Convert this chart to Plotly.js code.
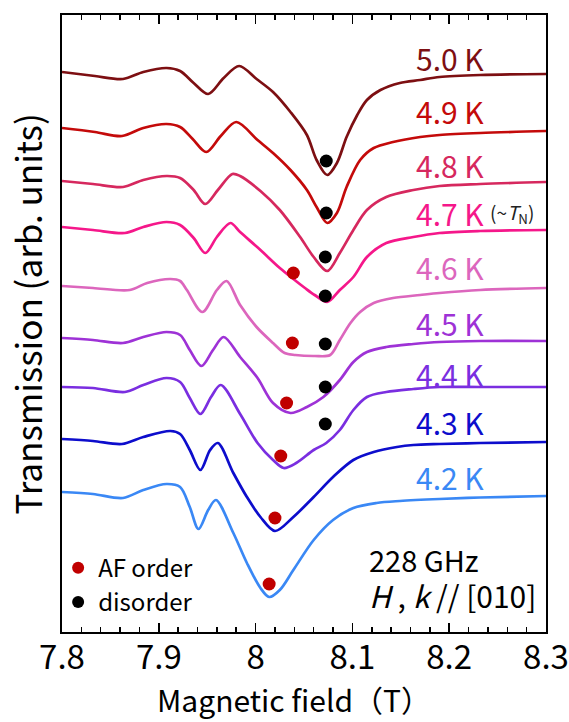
<!DOCTYPE html>
<html>
<head>
<meta charset="utf-8">
<script src="https://cdn.plot.ly/plotly-3.0.1.min.js"></script>
<style>html,body{margin:0;padding:0;background:#fff;}#chart{width:569px;height:722px;}</style>
</head>
<body>
<div id="chart"></div>
<script>
// Temperatures (labels)
const tempLabels = ['5.0 K', '4.9 K', '4.8 K', '4.7 K', '4.6 K', '4.5 K', '4.4 K', '4.3 K', '4.2 K'];

// Magnetic field (T) and transmission (arb. units, offset) for each temperature
const field_50 = [7.800, 7.834, 7.863, 7.884, 7.908, 7.922, 7.936, 7.951, 7.967, 7.983, 8.001, 8.018, 8.036, 8.053, 8.063, 8.074, 8.084, 8.094, 8.105, 8.115, 8.129, 8.149, 8.170, 8.190, 8.232, 8.300];
const trans_50 = [560, 556, 553, 560, 564, 561, 549, 538, 554, 566, 553, 540, 520, 497, 472, 457, 469, 495, 517, 532, 542, 549, 552, 555, 557, 558];

const field_49 = [7.800, 7.834, 7.862, 7.884, 7.908, 7.922, 7.935, 7.949, 7.964, 7.980, 8.002, 8.018, 8.036, 8.053, 8.063, 8.074, 8.084, 8.094, 8.108, 8.122, 8.142, 8.170, 8.190, 8.232, 8.300];
const trans_49 = [504, 500, 496, 504, 508, 505, 493, 480, 496, 510, 492, 479, 462, 442, 425, 409, 419, 445, 472, 484, 490, 495, 497, 499, 501];

const field_48 = [7.800, 7.832, 7.863, 7.884, 7.908, 7.922, 7.936, 7.948, 7.961, 7.976, 7.984, 8.005, 8.025, 8.046, 8.060, 8.074, 8.087, 8.101, 8.115, 8.135, 8.163, 8.190, 8.232, 8.300];
const trans_48 = [451, 448, 445, 452, 456, 454, 442, 428, 442, 458, 456, 441, 422, 395, 375, 361, 379, 402, 422, 435, 442, 446, 448, 450];

const field_47 = [7.800, 7.832, 7.865, 7.884, 7.908, 7.922, 7.936, 7.948, 7.960, 7.974, 7.984, 8.005, 8.025, 8.039, 8.051, 8.061, 8.074, 8.087, 8.101, 8.115, 8.135, 8.163, 8.190, 8.232, 8.300];
const trans_47 = [405, 402, 399, 405, 410, 407, 394, 379, 395, 409, 400, 382, 364, 353, 344, 337, 330, 342, 355, 375, 389, 395, 399, 401, 402];

const field_46 = [7.800, 7.832, 7.870, 7.888, 7.912, 7.922, 7.929, 7.945, 7.960, 7.970, 7.984, 8.001, 8.018, 8.030, 8.041, 8.061, 8.077, 8.087, 8.098, 8.108, 8.122, 8.142, 8.170, 8.190, 8.232, 8.300];
const trans_46 = [346, 344, 342, 349, 353, 351, 342, 320, 342, 351, 327, 305, 289, 279, 277, 276, 277, 292, 309, 320, 329, 334, 337, 339, 342, 344];

const field_45 = [7.800, 7.832, 7.863, 7.884, 7.908, 7.922, 7.932, 7.944, 7.956, 7.967, 7.984, 8.002, 8.018, 8.036, 8.053, 8.070, 8.087, 8.101, 8.115, 8.135, 8.163, 8.190, 8.232, 8.300];
const trans_45 = [294, 292, 289, 295, 300, 297, 282, 266, 282, 295, 275, 254, 229, 219, 225, 235, 252, 270, 280, 285, 288, 290, 291, 291];

const field_44 = [7.800, 7.832, 7.865, 7.884, 7.908, 7.922, 7.932, 7.943, 7.954, 7.964, 7.984, 8.002, 8.018, 8.029, 8.042, 8.060, 8.073, 8.087, 8.101, 8.115, 8.135, 8.163, 8.190, 8.232, 8.300];
const trans_44 = [245, 244, 240, 247, 254, 250, 234, 218, 235, 247, 218, 189, 172, 164, 169, 182, 189, 202, 222, 235, 240, 243, 245, 245, 245];

const field_43 = [7.800, 7.832, 7.862, 7.884, 7.912, 7.922, 7.932, 7.943, 7.953, 7.961, 7.977, 7.991, 8.005, 8.020, 8.039, 8.060, 8.080, 8.101, 8.122, 8.146, 8.163, 8.190, 8.232, 8.300];
const trans_43 = [193, 191, 188, 195, 201, 198, 182, 162, 182, 189, 159, 135, 115, 101, 115, 135, 155, 172, 180, 185, 187, 188, 189, 190];

const field_42 = [7.800, 7.832, 7.863, 7.884, 7.908, 7.922, 7.932, 7.941, 7.951, 7.959, 7.977, 7.991, 8.005, 8.014, 8.025, 8.039, 8.060, 8.080, 8.101, 8.125, 8.149, 8.190, 8.232, 8.300];
const trans_42 = [140, 138, 134, 142, 148, 145, 125, 103, 122, 132, 99, 69, 44, 35, 42, 62, 92, 112, 124, 129, 131, 133, 134.5, 136];

// Resonance positions
const afField = [8.039, 8.038, 8.032, 8.026, 8.020, 8.014];
const afTrans = [359, 289, 229, 176, 114, 48];
const disField = [8.073, 8.073, 8.072, 8.072, 8.072, 8.072, 8.072];
const disTrans = [471, 419, 375, 336, 288, 245, 208];

// label vertical positions (same units as transmission)
const labelLevels = [574.5, 521, 467, 419, 365, 309, 258, 210, 155];

// ---- styles ----
const colors = ['#7d0f12', '#c40a0a', '#d6285e', '#f5178a', '#dc66bd', '#9e32d6', '#7a2ee0', '#0d0dcc', '#3a88f5'];
const FONT = '"Noto Sans CJK JP", "Noto Sans", sans-serif';

const fields = [field_50, field_49, field_48, field_47, field_46, field_45, field_44, field_43, field_42];
const transs = [trans_50, trans_49, trans_48, trans_47, trans_46, trans_45, trans_44, trans_43, trans_42];

const traces = fields.map((f, i) => ({
  x: f, y: transs[i], type: 'scatter', mode: 'lines', name: tempLabels[i],
  line: {color: colors[i], width: 2.7, shape: 'spline', smoothing: 0.9},
  showlegend: false, hoverinfo: 'skip'
}));
traces.push({
  x: afField, y: afTrans, type: 'scatter', mode: 'markers', name: 'AF order',
  marker: {color: '#c00000', size: 13}
});
traces.push({
  x: disField, y: disTrans, type: 'scatter', mode: 'markers', name: 'disorder',
  marker: {color: '#000000', size: 13}
});

const annotations = tempLabels.map((t, i) => ({
  x: 8.164, y: labelLevels[i], xref: 'x', yref: 'y', xanchor: 'left', yanchor: 'middle',
  text: t, showarrow: false, font: {family: FONT, size: 30, color: colors[i]}
}));
annotations.push({
  x: 8.240, y: labelLevels[3], xref: 'x', yref: 'y', xanchor: 'left', yanchor: 'middle',
  text: '(~<i>T</i><sub>N</sub>)', showarrow: false, font: {family: FONT, size: 19, color: '#222'}
});
annotations.push({
  x: 0.630, y: 0.119, xref: 'paper', yref: 'paper', xanchor: 'left', yanchor: 'middle',
  text: '228 GHz', showarrow: false, font: {family: FONT, size: 29, color: '#000'}
});
annotations.push({
  x: 0.630, y: 0.060, xref: 'paper', yref: 'paper', xanchor: 'left', yanchor: 'middle',
  text: '<i>H</i> , <i>k</i> // [010]', showarrow: false, font: {family: FONT, size: 30, color: '#000'}
});
// axis titles
annotations.push({
  x: 0.479, y: -0.108, xref: 'paper', yref: 'paper', xanchor: 'center', yanchor: 'middle',
  text: 'Magnetic field（T）', showarrow: false, font: {family: FONT, size: 30, color: '#000'}
});
annotations.push({
  x: -0.074, y: 0.515, xref: 'paper', yref: 'paper', xanchor: 'center', yanchor: 'middle',
  textangle: -90, text: 'Transmission (arb. units)', showarrow: false,
  font: {family: FONT, size: 35, color: '#000'}
});

const layout = {
  width: 569, height: 722,
  margin: {l: 62, r: 23, t: 15, b: 90},
  paper_bgcolor: '#fff', plot_bgcolor: '#fff',
  font: {family: FONT, color: '#000'},
  xaxis: {
    range: [7.8, 8.3], tick0: 7.8, dtick: 0.1,
    ticks: 'inside', ticklen: 9, tickwidth: 1.5, tickcolor: '#000',
    minor: {dtick: 0.02, ticks: 'inside', ticklen: 5, tickwidth: 1.5, tickcolor: '#000'},
    showline: true, linewidth: 2, linecolor: '#000', mirror: 'ticks',
    showgrid: false, zeroline: false,
    tickfont: {family: FONT, size: 33, color: '#000'},
    ticklabelstandoff: -5, ticklabeloverflow: 'allow'
  },
  yaxis: {
    range: [0, 617], showticklabels: false, ticks: '',
    showline: true, linewidth: 2, linecolor: '#000', mirror: true,
    showgrid: false, zeroline: false
  },
  legend: {
    x: -0.008, y: 0.14, xanchor: 'left', yanchor: 'top',
    bgcolor: 'rgba(0,0,0,0)', font: {family: FONT, size: 24, color: '#000'},
    itemwidth: 30, tracegroupgap: 0, itemsizing: 'constant'
  },
  showlegend: true,
  annotations: annotations
};

Plotly.newPlot('chart', traces, layout, {displayModeBar: false, staticPlot: true});
</script>
</body>
</html>
